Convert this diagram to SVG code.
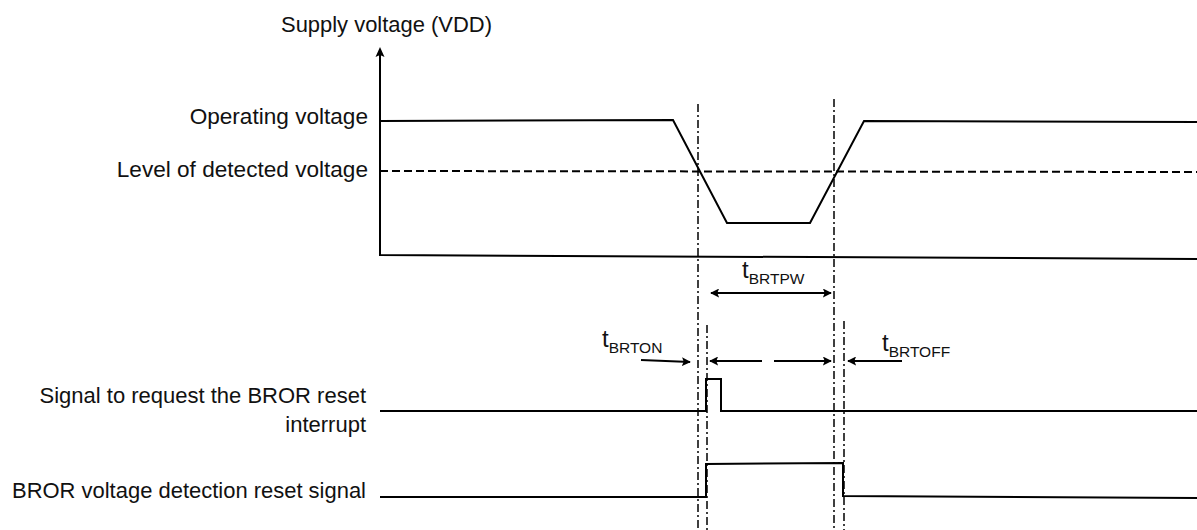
<svg xmlns="http://www.w3.org/2000/svg" width="1197" height="530" viewBox="0 0 1197 530">
<style>
.lbl{font-family:"Liberation Sans",Arial,sans-serif;font-size:22.6px;fill:#111}
.sm{font-size:22px}
.t{font-size:24px}
.sub{font-size:15.5px}
.w{fill:none;stroke:#000;stroke-width:2;stroke-linejoin:miter}
.dash{fill:none;stroke:#000;stroke-width:2;stroke-dasharray:8 4}
.dd{fill:none;stroke:#000;stroke-width:1.5;stroke-dasharray:8 3 2 3}
.arr{fill:none;stroke:#000;stroke-width:2}
</style>
<defs>
<marker id="ah" viewBox="0 0 10 10" refX="9" refY="5" markerWidth="9" markerHeight="9" markerUnits="userSpaceOnUse" orient="auto-start-reverse">
<path d="M0,0 L10,5 L0,10 L2,5 z" fill="#000"/>
</marker>
</defs>
<rect width="1197" height="530" fill="#fff"/>
<g id="axes">
<polyline class="w" points="380,51 380,255 1197,259"/>
<path d="M380,47 L384.5,57 L380,55 L375.5,57 z" fill="#000"/>
</g>
<g id="vdd-waveform">
<polyline class="w" points="380,121 673,120 727,223 810,223 864,121 1197,122"/>
<line class="dash" x1="380" y1="171" x2="1197" y2="172"/>
</g>
<g id="guides">
<line class="dd" x1="698" y1="104" x2="698" y2="530"/>
<line class="dd" x1="834" y1="99" x2="834" y2="530"/>
<line class="dd" x1="707" y1="325" x2="707" y2="530"/>
<line class="dd" x1="844" y1="321" x2="844" y2="530"/>
</g>
<g id="signal-request">
<polyline class="w" points="380,411 706,411 706,379 721,379 721,411 1197,411"/>
</g>
<g id="signal-reset">
<polyline class="w" points="380,497 706,497 706,464 843,463 843,496 1197,498"/>
</g>
<g id="connectors">
<line class="arr" x1="711" y1="293" x2="831" y2="293" marker-start="url(#ah)" marker-end="url(#ah)"/>
<line class="arr" x1="641" y1="360" x2="690" y2="362" marker-end="url(#ah)"/>
<line class="arr" x1="762" y1="361" x2="710" y2="361" marker-end="url(#ah)"/>
<line class="arr" x1="774" y1="361" x2="831" y2="361" marker-end="url(#ah)"/>
<line class="arr" x1="902" y1="361" x2="848" y2="361" marker-end="url(#ah)"/>
</g>
<g id="label-vdd"><text class="lbl" x="281" y="32" textLength="211" lengthAdjust="spacingAndGlyphs">Supply voltage (VDD)</text></g>
<g id="label-operating"><text class="lbl" x="368" y="124" text-anchor="end">Operating voltage</text></g>
<g id="label-detected"><text class="lbl" x="368" y="177" text-anchor="end">Level of detected voltage</text></g>
<g id="label-request"><text class="lbl sm" x="366" y="403" text-anchor="end">Signal to request the BROR reset</text><text class="lbl sm" x="366" y="432" text-anchor="end">interrupt</text></g>
<g id="label-reset"><text class="lbl sm" x="366" y="498" text-anchor="end" textLength="354" lengthAdjust="spacingAndGlyphs">BROR voltage detection reset signal</text></g>
<g id="label-tbrtpw"><text class="lbl t" x="742" y="278">t<tspan class="sub" dy="6">BRTPW</tspan></text></g>
<g id="label-tbrton"><text class="lbl t" x="602" y="347">t<tspan class="sub" dy="6">BRTON</tspan></text></g>
<g id="label-tbrtoff"><text class="lbl t" x="882" y="351">t<tspan class="sub" dy="6">BRTOFF</tspan></text></g>
</svg>
